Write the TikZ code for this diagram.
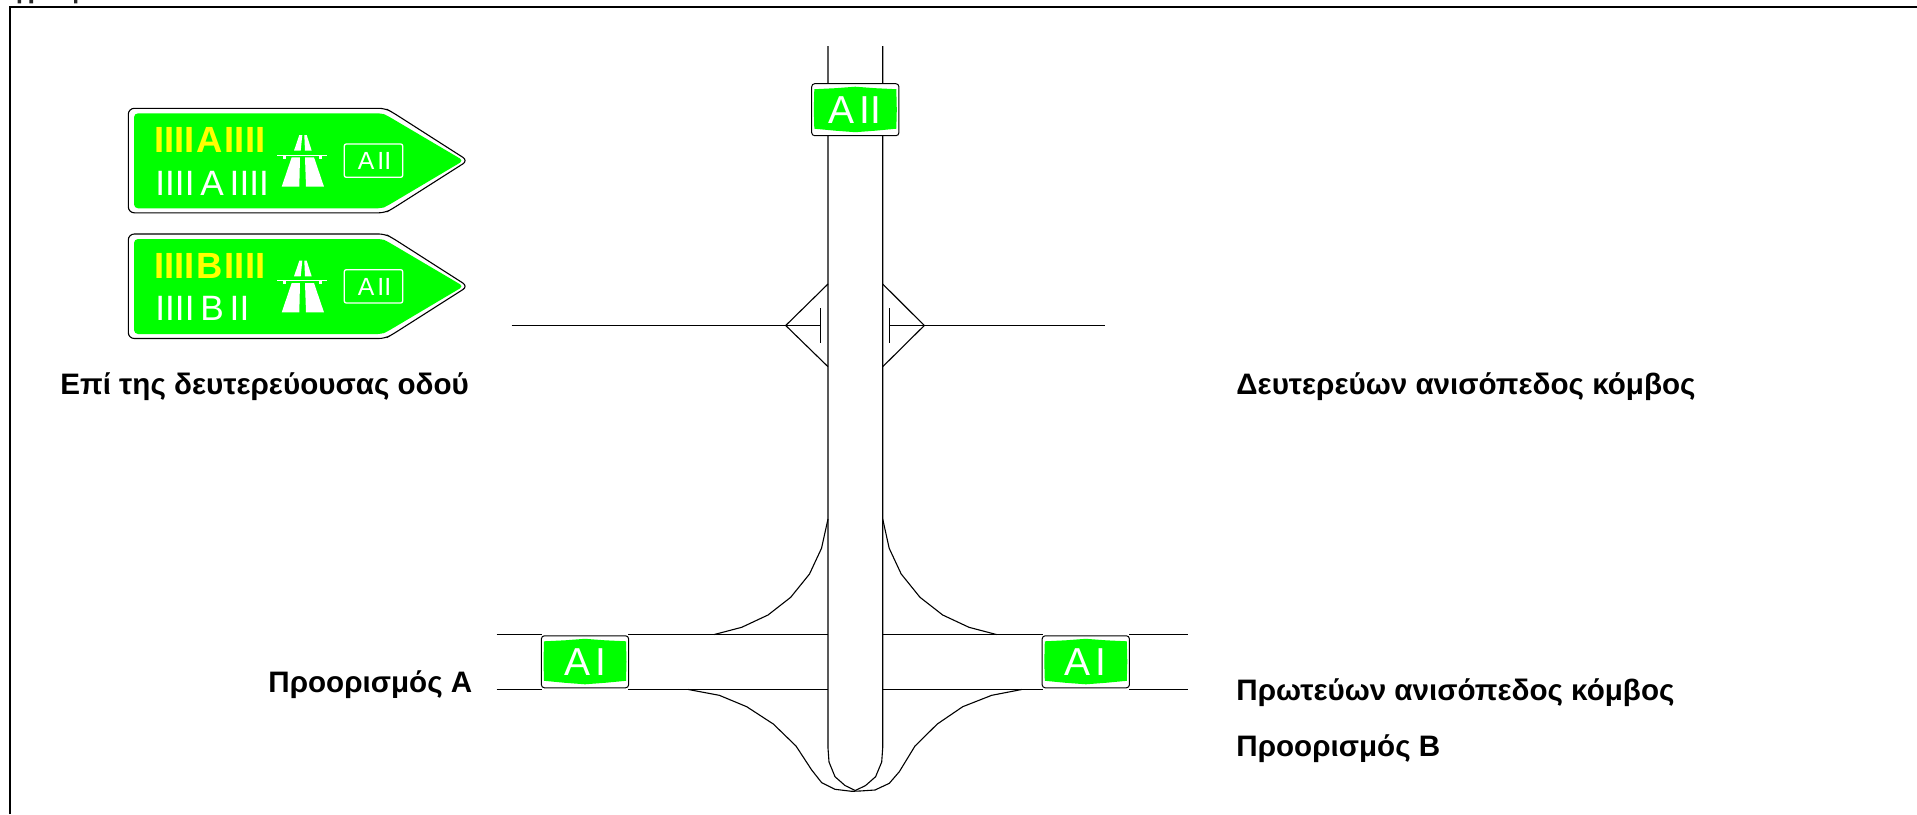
\documentclass[tikz,border=0pt]{standalone}
\usepackage{fontspec}
\setmainfont{Liberation Sans}
\definecolor{signgreen}{HTML}{00FF00}
\definecolor{signyellow}{HTML}{FFFF00}
\tikzset{
  road/.style={line width=0.55pt,black,line join=round},
  caption/.style={anchor=base west,inner sep=0pt,font=\fontsize{14.8pt}{17pt}\selectfont\bfseries},
  platetext/.style={inner sep=0pt,white,font=\fontsize{19.5pt}{20pt}\selectfont},
  markwhite/.style={fill=white,draw=none}
}
% one green route plate: centre, name, text
\newcommand{\routeplate}[4]{
  \fill[white] (#1-43.6,#2-26.3) rectangle (#1+43.6,#2+26.3);
  \draw[line width=0.5pt,rounded corners=1.5pt,fill=white] (#1-43.6,#2-26) rectangle (#1+43.6,#2+26);
  \fill[signgreen] (#1-41,#2-20.5) -- (#1-20,#2-21.5) -- (#1,#2-23) -- (#1+20,#2-21.5) -- (#1+41,#2-20.5) -- (#1+41.5,#2) -- (#1+41,#2+19) -- (#1+20,#2+21) -- (#1,#2+22.5) -- (#1-20,#2+21) -- (#1-41,#2+19) -- (#1-41.5,#2) -- cycle;
  \node[platetext] (#3) at (#1,#2) {#4};
}
% arrow sign with the motorway mark, shifted down by #1
\newcommand{\arrowsign}[4]{
  \begin{scope}[shift={(0,#1)}]
    \draw[line width=0.55pt,fill=white,rounded corners=3pt] (128.3,108.3) -- (385,108.3) -- (392,112) -- (468,160.6) -- (392,209) -- (385,212.8) -- (128.3,212.8) -- cycle;
    \fill[signgreen,rounded corners=2pt] (134,113.3) -- (382,113.3) -- (387,115.5) -- (463.5,160.6) -- (387,206) -- (382,208.3) -- (134,208.3) -- cycle;
    \node[anchor=base west,inner sep=0pt,signyellow,font=\fontsize{18.2pt}{20pt}\selectfont\bfseries] (#2a) at (153.7,152.3) {#3};
    \node[anchor=base west,inner sep=0pt,white,font=\fontsize{17.6pt}{20pt}\selectfont] (#2b) at (155,195) {#4};
    % motorway mark
    \fill[markwhite] (294,150.7) -- (299.3,135) -- (302.3,135) -- (300.7,150.7) -- cycle;
    \fill[markwhite] (304.3,135) -- (306.7,135) -- (311.7,150.7) -- (305,150.7) -- cycle;
    \fill[markwhite] (277.3,154.5) rectangle (326.7,155.5);
    \fill[markwhite] (283,155) rectangle (286,158.5);
    \fill[markwhite] (319,155) rectangle (322,158.5);
    \fill[markwhite] (281.7,186.7) -- (291.7,157.3) -- (300,157.3) -- (299.3,186.7) -- cycle;
    \fill[markwhite] (306,186.7) -- (305,157.3) -- (314,157.3) -- (324,186.7) -- cycle;
    \draw[white,line width=0.65pt,rounded corners=1pt] (344.3,144) rectangle (402.7,177.3);
    \node[inner sep=0pt,white,font=\fontsize{12.4pt}{13pt}\selectfont] (#2c) at (374.5,161) {A\hspace{1.5pt}II};
  \end{scope}
}
\begin{document}
\begin{tikzpicture}[x=0.5pt,y=-0.5pt]
  \useasboundingbox (0,0) rectangle (1917,814);
  \fill[white] (0,0) rectangle (1917,814);
  % frame and what is left of the cut heading
  \draw[line width=1pt] (10,814) -- (10,7) -- (1917,7);
  \fill[black!85] (17.7,0) rectangle (21,3.3) (29.3,0) rectangle (33,3.3) (74,0) rectangle (77.3,3.3);
  % main road with its turn at the bottom
  \draw[road] (828,46) -- (828,748) -- (829,762) -- (835,776.7) -- (845,785.5) -- (855.3,790.5) -- (865.6,785.5) -- (875.6,776.7) -- (881.7,762) -- (882.7,748) -- (882.7,46);
  % cross road at the bottom
  \draw[road] (496.7,634.5) -- (541.7,634.5) (628.3,634.5) -- (828,634.5);
  \draw[road] (496.7,689.5) -- (541.7,689.5) (628.3,689.5) -- (828,689.5);
  \draw[road] (882.7,634.5) -- (1042.7,634.5) (1129.3,634.5) -- (1188.3,634.5);
  \draw[road] (882.7,689.5) -- (1042.7,689.5) (1129.3,689.5) -- (1188.3,689.5);
  % ramps
  \draw[road] (828,519) -- (821.5,548.3) -- (809.5,574) -- (790.7,597.3) -- (768,615) -- (741.7,627.3) -- (714.3,634.5);
  \draw[road] (882.7,519) -- (889.2,548.3) -- (901.2,574) -- (920,597.3) -- (942.7,615) -- (969,627.3) -- (996.4,634.5);
  \draw[road] (688.3,689.5) -- (719.3,695.3) -- (746.7,706.7) -- (773.3,724) -- (796,746) -- (811.7,770) -- (821.7,782.7) -- (835,789.3) -- (851.7,791.3) -- (860,791) -- (875,790) -- (889.3,783.3) -- (899.3,771.7) -- (915,746) -- (937.3,724) -- (962.7,706.7) -- (991.7,695.3) -- (1021.7,689.5);
  % upper junction
  \draw[road] (828,284) -- (785.7,325.5) -- (828,366.7);
  \draw[road] (882.7,284) -- (924.3,325.5) -- (882.7,366.7);
  \draw[road] (511.5,325.5) -- (820.7,325.5);
  \draw[road] (889.7,325.5) -- (1105,325.5);
  \draw[road] (820.7,308.3) -- (820.7,342.7);
  \draw[road] (889.7,308.3) -- (889.7,342.7);
  % plates
  \routeplate{855.3}{109.7}{plateN}{A\hspace{2.5pt}II}
  \routeplate{585}{661.8}{plateW}{A\hspace{2.5pt}I}
  \routeplate{1085.8}{661.8}{plateE}{A\hspace{2.5pt}I}
  % arrow signs
  \arrowsign{0}{signA}{IIII\hspace{1pt}A\hspace{1pt}IIII}{IIII\,A\,IIII}
  \arrowsign{125.7}{signB}{IIII\hspace{1pt}B\hspace{1pt}IIII}{IIII\,B\,II}
  % captions
  \node[caption] (capSecond) at (60,394) {Επί της δευτερεύουσας οδού};
  \node[caption] (capSmall) at (1236,394) {Δευτερεύων ανισόπεδος κόμβος};
  \node[caption] (capDestA) at (268,692.5) {Προορισμός Α};
  \node[caption] (capMain) at (1236,700) {Πρωτεύων ανισόπεδος κόμβος};
  \node[caption] (capDestB) at (1236,756.5) {Προορισμός Β};
\end{tikzpicture}
\end{document}
